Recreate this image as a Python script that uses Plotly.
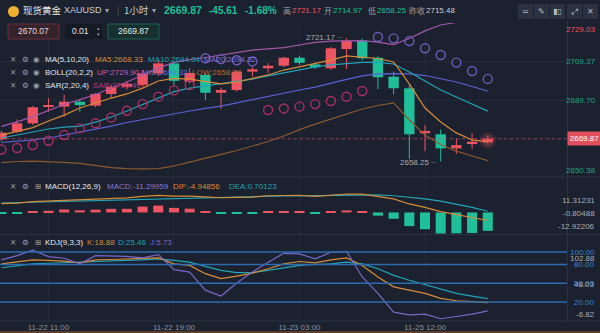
import plotly.graph_objects as go

# ---------------- data ----------------
idx = list(range(32))
tick_pos = [3, 11, 19, 27]
tick_text = ["11-22 11:00", "11-22 19:00", "11-23 03:00", "11-25 12:00"]

open_ = [2669.6, 2673.5, 2677.8, 2686.4, 2686.3, 2688.8, 2686.8, 2692.8, 2696.5, 2697.4,
         2703.3, 2708.4, 2699.0, 2702.5, 2693.4, 2694.8, 2704.2, 2705.9, 2707.2, 2711.3,
         2707.9, 2705.9, 2715.7, 2720.0, 2711.3, 2701.6, 2695.7, 2672.7, 2672.2, 2665.0,
         2667.5, 2668.1]
high = [2674.0, 2679.8, 2686.6, 2690.6, 2692.3, 2689.5, 2693.4, 2697.4, 2699.5, 2705.0,
        2709.6, 2709.0, 2706.0, 2703.4, 2696.0, 2705.0, 2706.5, 2708.5, 2711.8, 2712.3,
        2709.0, 2716.8, 2721.17, 2721.0, 2712.0, 2704.2, 2697.3, 2676.9, 2674.6, 2669.8,
        2672.7, 2671.5]
low = [2668.5, 2672.8, 2677.0, 2683.7, 2681.2, 2683.7, 2686.0, 2690.6, 2695.0, 2696.5,
       2702.0, 2697.0, 2698.0, 2689.7, 2685.1, 2694.0, 2701.6, 2703.5, 2706.5, 2707.6,
       2705.5, 2705.0, 2705.5, 2710.0, 2695.3, 2692.6, 2659.5, 2663.6, 2658.25, 2662.2,
       2664.7, 2667.5]
close = [2673.0, 2677.8, 2686.0, 2686.8, 2688.8, 2687.1, 2692.8, 2696.5, 2698.0, 2703.3,
         2708.4, 2699.5, 2703.5, 2693.4, 2694.8, 2704.2, 2705.4, 2707.2, 2711.3, 2708.7,
         2706.4, 2716.1, 2720.0, 2711.0, 2701.3, 2695.7, 2672.2, 2673.9, 2665.0, 2666.7,
         2668.4, 2669.87]

ma5 = [2671.8, 2673.6, 2675.6, 2679.0, 2682.0, 2685.6, 2688.1, 2690.7, 2692.8, 2695.8,
       2699.4, 2700.7, 2700.4, 2699.1, 2697.9, 2698.9, 2700.7, 2702.5, 2705.0, 2706.6,
       2708.3, 2710.1, 2712.2, 2711.4, 2710.9, 2709.1, 2697.9, 2685.6, 2678.5, 2672.9,
       2669.3, 2668.33]
ma10 = [2670.3, 2671.8, 2673.3, 2674.9, 2675.9, 2676.4, 2678.4, 2681.0, 2684.1, 2687.4,
        2690.7, 2694.0, 2695.8, 2697.1, 2698.1, 2699.2, 2700.4, 2702.0, 2703.5, 2705.0,
        2706.6, 2707.6, 2708.3, 2708.9, 2708.9, 2708.1, 2704.0, 2699.4, 2694.8, 2691.2,
        2687.6, 2684.04]
boll_mid = [2668.0, 2668.5, 2669.3, 2670.3, 2671.8, 2673.4, 2674.9, 2676.4, 2678.2, 2679.7,
            2681.3, 2682.8, 2684.1, 2685.4, 2686.6, 2688.2, 2689.9, 2691.7, 2693.3, 2694.8,
            2696.3, 2698.4, 2700.2, 2702.0, 2703.0, 2703.2, 2703.0, 2702.2, 2700.7, 2698.9,
            2696.6, 2694.32]
boll_up = [2676.2, 2678.5, 2681.2, 2684.3, 2687.4, 2689.9, 2692.5, 2695.8, 2698.9, 2702.5,
           2706.0, 2708.9, 2710.4, 2711.4, 2712.7, 2713.9, 2715.2, 2715.8, 2716.5, 2717.8,
           2719.1, 2719.8, 2720.0, 2720.0, 2719.3, 2718.0, 2721.1, 2725.0, 2728.0, 2729.3,
           2729.8, 2729.90]
boll_low = [2657.7, 2658.3, 2658.5, 2658.3, 2657.8, 2657.3, 2656.2, 2655.2, 2654.7, 2654.5,
            2654.7, 2656.0, 2658.0, 2659.8, 2661.9, 2663.9, 2666.2, 2668.5, 2671.3, 2674.6,
            2677.4, 2680.0, 2682.8, 2685.1, 2686.9, 2688.2, 2679.5, 2671.8, 2667.0, 2663.6,
            2661.1, 2658.74]
sar = [2664.4, 2665.2, 2666.7, 2668.9, 2671.8, 2675.2, 2677.8, 2680.8, 2684.2, 2687.6,
       2691.4, 2694.6, 2697.4, 2711.0, 2710.6, 2710.0, 2709.4, 2684.6, 2685.4, 2686.3,
       2687.6, 2689.2, 2691.4, 2694.3, 2721.9, 2721.2, 2719.8, 2716.1, 2712.7, 2708.8,
       2704.5, 2700.49]

dif = [5.4, 5.7, 6.65, 7.05, 7.7, 7.7, 8.15, 8.65, 8.9, 9.85,
       10.45, 10.05, 10.05, 9.55, 9.0, 9.2, 9.45, 10.25, 10.5, 10.55,
       9.9, 10.7, 11.31231, 11.2, 9.8, 8.3, 5.2, 3.15, 0.5, -1.3,
       -3.2, -4.94856]
dea = [5.8, 6.05, 6.3, 6.55, 6.8, 7.05, 7.3, 7.55, 7.8, 8.05,
       8.35, 8.65, 8.9, 9.2, 9.4, 9.6, 9.8, 9.95, 10.1, 10.2,
       10.3, 10.4, 10.7, 10.8, 10.8, 10.25, 9.4, 8.3, 6.96103, 5.1,
       3.1, 0.70123]
macd_hist = [-0.8, -0.7, 0.7, 1.0, 1.8, 1.3, 1.7, 2.2, 2.2, 3.6,
             4.2, 2.8, 2.3, 0.7, -0.8, -0.8, -0.7, 0.6, 0.8, 0.7,
             -0.8, 0.6, 1.22462, 0.8, -2.0, -3.9, -8.4, -10.3, -12.92206, -12.8,
             -12.6, -11.29959]

k_line = [81.1, 84.0, 87.5, 86.5, 85.3, 82.7, 87.5, 88.0, 88.5, 89.0,
          90.6, 81.1, 78.5, 65.3, 57.4, 61.5, 66.3, 73.2, 81.1, 84.8,
          82.7, 87.5, 90.6, 78.5, 60.0, 44.2, 39.0, 33.7, 25.8, 22.0,
          20.5, 18.88]
d_line = [74.8, 78.0, 81.1, 82.0, 82.7, 83.7, 84.5, 85.3, 86.5, 87.5,
          89.0, 86.5, 83.7, 76.9, 70.6, 67.0, 67.0, 70.6, 74.2, 78.5,
          80.0, 81.1, 83.7, 81.1, 73.2, 62.6, 54.8, 47.9, 40.0, 33.7,
          29.5, 25.46]
j_line = [87.5, 94.2, 102.88, 92.7, 90.0, 81.0, 94.2, 94.2, 93.0, 90.6,
          95.8, 71.7, 67.9, 39.0, 29.5, 50.5, 67.9, 83.7, 97.9, 96.9,
          89.0, 99.5, 101.0, 60.0, 33.7, 3.7, -0.5, 0.6, -6.82, -3.2,
          0.6, 5.73]
kdj_levels = [100, 80, 50, 20]

# ---------------- style ----------------
W, H = 600, 333
MR, MB = 33, 12
PW, PH = W - MR, H - MB
BG = "#1b212e"
RED = "#ee5461"
GREEN = "#1fbf9a"
C_MA5 = "#d88b36"
C_MA10 = "#22a3b8"
C_MID = "#5c62d6"
C_UP = "#a657ad"
C_LOW = "#8c5a2f"
C_SAR_LO = "#a92f64"
C_SAR_HI = "#6e5bb8"
C_J = "#7a66c8"
C_LEVEL = "#2d6cb0"
GRID = "#242b38"
SEP = "#2b3243"
TXT = "#e4e6ea"
GRAY = "#9aa0aa"
LAT = "Liberation Sans, Arial, sans-serif"
CJK = "Noto Sans CJK SC, sans-serif"
FS = 8  # small text size


def px_x(x):
    return x / PW


def px_y(y):
    return (PH - y) / PH


fig = go.Figure()

# ---------------- main panel: candles ----------------
body_base = [min(o, c) for o, c in zip(open_, close)]
body_h = [max(abs(c - o), 0.45) for o, c in zip(open_, close)]
body_col = [RED if c >= o else GREEN for o, c in zip(open_, close)]
fig.add_trace(go.Bar(x=idx, y=body_h, base=body_base, width=0.66,
                     marker=dict(color=body_col, line=dict(width=0)),
                     xaxis="x", yaxis="y"))
for col in (RED, GREEN):
    wx, wy = [], []
    for i in idx:
        if body_col[i] == col:
            wx += [i, i, None]
            wy += [low[i], high[i], None]
    fig.add_trace(go.Scatter(x=wx, y=wy, mode="lines", line=dict(color=col, width=1),
                             xaxis="x", yaxis="y"))

# overlays
for series, col in ((boll_low, C_LOW), (boll_mid, C_MID), (boll_up, C_UP),
                    (ma10, C_MA10), (ma5, C_MA5)):
    fig.add_trace(go.Scatter(x=idx, y=series, mode="lines",
                             line=dict(color=col, width=1.2), xaxis="x", yaxis="y"))

sar_lo = [s if s < c else None for s, c in zip(sar, close)]
sar_hi = [s if s >= c else None for s, c in zip(sar, close)]
for series, col in ((sar_lo, C_SAR_LO), (sar_hi, C_SAR_HI)):
    fig.add_trace(go.Scatter(x=idx, y=series, mode="markers",
                             marker=dict(symbol="circle-open", size=9, color=col,
                                         line=dict(width=1.4, color=col)),
                             xaxis="x", yaxis="y"))

# glow on the live candle
last = idx[-1]
for sz, a in ((17, 0.12), (12, 0.2)):
    fig.add_trace(go.Scatter(x=[last], y=[(open_[last] + close[last]) / 2], mode="markers",
                             marker=dict(size=sz, color=f"rgba(238,84,97,{a})"),
                             xaxis="x", yaxis="y"))

# ---------------- MACD panel ----------------
hist_col = [RED if v >= 0 else GREEN for v in macd_hist]
fig.add_trace(go.Bar(x=idx, y=macd_hist, width=0.64,
                     marker=dict(color=hist_col, line=dict(width=0)),
                     xaxis="x2", yaxis="y2"))
fig.add_trace(go.Scatter(x=idx, y=dea, mode="lines", line=dict(color=C_MA10, width=1.2),
                         xaxis="x2", yaxis="y2"))
fig.add_trace(go.Scatter(x=idx, y=dif, mode="lines", line=dict(color=C_MA5, width=1.2),
                         xaxis="x2", yaxis="y2"))

# ---------------- KDJ panel ----------------
for series, col in ((d_line, C_MA10), (k_line, C_MA5), (j_line, C_J)):
    fig.add_trace(go.Scatter(x=idx, y=series, mode="lines", line=dict(color=col, width=1.2),
                             xaxis="x3", yaxis="y3"))

# ---------------- axes ----------------
xr = [-0.089, 36.05]
ax_common = dict(range=xr, tickvals=tick_pos, showgrid=True, gridcolor=GRID, gridwidth=1,
                 zeroline=False, showline=False, ticks="")
main_lo, main_hi = 2650.38, 2729.03
main_ticks = [main_lo + (main_hi - main_lo) * k / 4 for k in range(5)]

fig.update_layout(
    width=W, height=H,
    margin=dict(l=0, r=MR, t=0, b=MB),
    paper_bgcolor=BG, plot_bgcolor=BG,
    showlegend=False, hovermode=False,
    font=dict(family=LAT, color=GRAY, size=9),
    xaxis=dict(**ax_common, anchor="y", showticklabels=False),
    xaxis2=dict(**ax_common, anchor="y2", matches="x", showticklabels=False),
    xaxis3=dict(**ax_common, anchor="y3", matches="x", showticklabels=True,
                ticktext=tick_text, tickfont=dict(size=FS, color="#8b909a")),
    yaxis=dict(domain=[px_y(177), px_y(23)], range=[main_lo, main_hi], tickvals=main_ticks,
               showgrid=True, gridcolor=GRID, zeroline=False, showticklabels=False),
    yaxis2=dict(domain=[px_y(234), px_y(177)], range=[-13.23, 21.74], showgrid=False,
                zeroline=False, showticklabels=False),
    yaxis3=dict(domain=[0, px_y(235)], range=[-10.4, 127.2], showgrid=False,
                zeroline=False, showticklabels=False),
)

shapes = []
# KDJ reference levels
for lv in kdj_levels:
    shapes.append(dict(type="line", xref="paper", yref="y3", x0=0, x1=1, y0=lv, y1=lv,
                       line=dict(color=C_LEVEL, width=1.5)))
# live price line
shapes.append(dict(type="line", xref="paper", yref="y", x0=0, x1=1,
                   y0=close[-1], y1=close[-1],
                   line=dict(color="rgba(214,80,100,0.6)", width=1, dash="dot")))
# panel separators
for yy in (177, 234.5, 321):
    shapes.append(dict(type="line", xref="paper", yref="paper", x0=0, x1=W / PW,
                       y0=px_y(yy), y1=px_y(yy), line=dict(color=SEP, width=1)))
shapes.append(dict(type="line", xref="paper", yref="paper", x0=px_x(567.5), x1=px_x(567.5),
                   y0=px_y(21), y1=px_y(321), line=dict(color=SEP, width=1)))
# bottom strip
shapes.append(dict(type="rect", xref="paper", yref="paper", x0=0, x1=W / PW,
                   y0=px_y(333), y1=px_y(331), fillcolor="#5a3d2b", line=dict(width=0)))
# order boxes
shapes.append(dict(type="rect", xref="paper", yref="paper", x0=px_x(8), x1=px_x(59),
                   y0=px_y(39), y1=px_y(24), fillcolor="#34232d",
                   line=dict(color="#6b2f3c", width=1)))
shapes.append(dict(type="rect", xref="paper", yref="paper", x0=px_x(65), x1=px_x(102),
                   y0=px_y(39), y1=px_y(24), fillcolor="#141923", line=dict(width=0)))
shapes.append(dict(type="rect", xref="paper", yref="paper", x0=px_x(108), x1=px_x(159),
                   y0=px_y(39), y1=px_y(24), fillcolor="#17302f",
                   line=dict(color="#1d6555", width=1)))
# toolbar buttons
for x0 in (518, 534, 550, 567, 583):
    shapes.append(dict(type="rect", xref="paper", yref="paper", x0=px_x(x0), x1=px_x(x0 + 15),
                       y0=px_y(19), y1=px_y(4), fillcolor="#2a3140", line=dict(width=0)))
# coin icon
shapes.append(dict(type="circle", xref="paper", yref="paper", x0=px_x(8), x1=px_x(19),
                   y0=px_y(17), y1=px_y(6), fillcolor="#f0b12f", line=dict(width=0)))

ann = []


def label(x, y, text, color=TXT, size=FS, family=LAT, anchor="left", bold=False, **kw):
    if bold:
        text = f"<b>{text}</b>"
    ann.append(dict(x=px_x(x), y=px_y(y), xref="paper", yref="paper", text=text,
                    showarrow=False, xanchor=anchor, yanchor="middle",
                    font=dict(color=color, size=size, family=family), **kw))


# header
label(21, 10, "现货黄金", TXT, 9.5, CJK)
label(62, 10, "XAUUSD", "#c9ccd2", 9)
label(103, 10, "▾", GRAY, 8)
label(115, 10, "|", "#4a5162", 9)
label(122, 10, "1小时", "#c9ccd2", 9.5, CJK)
label(150, 10, "▾", GRAY, 8)
label(162, 10, "2669.87", GREEN, 10.5, bold=True)
label(207, 10, "-45.61", GREEN, 10, bold=True)
label(243, 10, "-1.68%", GREEN, 10, bold=True)
label(281, 10, "高", GRAY, 8, CJK)
label(290, 10, "2721.17", RED, 8)
label(322, 10, "开", GRAY, 8, CJK)
label(331, 10, "2714.97", GREEN, 8)
label(366, 10, "低", GRAY, 8, CJK)
label(375, 10, "2658.25", GREEN, 8)
label(407, 10, "昨收", GRAY, 8, CJK)
label(424, 10, "2715.48", "#c9ccd2", 8)
for xc, g in ((525.5, "≃"), (541.5, "✎"), (557.5, "▮▯"), (574.5, "⤢"), (590.5, "✕")):
    label(xc, 11, g, "#b8bcc4", 8, family="DejaVu Sans", anchor="center")

# order inputs
label(33.5, 31.5, "2670.07", "#e6d8dc", 8.5, anchor="center")
label(70, 31.5, "0.01", TXT, 8.5)
label(98, 28.5, "▴", GRAY, 5, family="DejaVu Sans", anchor="center")
label(98, 34.5, "▾", GRAY, 5, family="DejaVu Sans", anchor="center")
label(133.5, 31.5, "2669.87", "#dfeee9", 8.5, anchor="center")

# indicator legends
icon_f = "DejaVu Sans"
for yy in (59, 72, 85):
    label(8, yy, "✕", GRAY, 7.5, icon_f)
    label(20, yy, "⚙", GRAY, 7.5, icon_f)
    label(31, yy, "◉", GRAY, 7.5, icon_f)
label(43, 59, "MA(5,10,20)", TXT)
label(93, 59, "MA5:2668.33", C_MA5)
label(146, 59, "MA10:2684.04", C_MA10)
label(202, 59, "MA20:2694.32", "#7b70dc")
label(43, 72, "BOLL(20,2,2)", TXT)
label(95, 72, "UP:2729.90", "#c35bbf")
label(140, 72, "MID:2694.32", "#6d6fe0")
label(190, 72, "LOW:2658.74", "#b8702e")
label(43, 85, "SAR(2,20,4)", TXT)
label(91, 85, "SAR:2700.49", "#c23571")

for yy, name, items in (
    (186.5, "MACD(12,26,9)", ((105, "MACD:-11.29959", "#8a78da"), (171, "DIF:-4.94856", C_MA5),
                               (227, "DEA:0.70123", C_MA10))),
    (242.5, "KDJ(9,3,3)", ((85, "K:18.88", C_MA5), (116, "D:25.46", C_MA10),
                            (148, "J:5.73", C_J))),
):
    label(8, yy, "✕", GRAY, 7.5, icon_f)
    label(20, yy, "⚙", GRAY, 7.5, icon_f)
    label(33, yy, "⊞", GRAY, 7.5, icon_f)
    label(43, yy, name, TXT)
    for xx, t, c in items:
        label(xx, yy, t, c)

# extreme markers on the price panel
for i, val in ((22, high[22]), (28, low[28])):
    ann.append(dict(x=i, y=val, xref="x", yref="y", text=f"{val:.2f} ┈", showarrow=False,
                    xanchor="right", yanchor="middle", xshift=-3, yshift=-1 if i == 28 else 1,
                    font=dict(color="#a6abb3", size=FS, family=LAT)))

# right-hand scale labels
XR = 597 / PW
for val, col, ys in ((main_ticks[4], RED, -6), (main_ticks[3], "#22a585", 0),
                     (main_ticks[2], "#22a585", 0), (main_ticks[0], "#22a585", 7)):
    ann.append(dict(x=XR, y=val, xref="paper", yref="y", text=f"{val:.2f}", showarrow=False,
                    xanchor="right", yanchor="middle", yshift=ys,
                    font=dict(color=col, size=FS, family=LAT)))
ann.append(dict(x=1.0, y=close[-1], xref="paper", yref="y", text=f"{close[-1]:.2f}",
                showarrow=False, xanchor="left", yanchor="middle", xshift=0,
                bgcolor="#e0505d", borderpad=2, width=29,
                font=dict(color="#ffffff", size=FS, family=LAT)))

macd_hi, macd_lo = max(dif + dea + macd_hist), min(dif + dea + macd_hist)
for val, ys in ((macd_hi, -7), ((macd_hi + macd_lo) / 2, 0), (macd_lo, 6.5)):
    ann.append(dict(x=XR, y=val, xref="paper", yref="y2", text=f"{val:.5f}", showarrow=False,
                    xanchor="right", yanchor="middle", yshift=ys,
                    font=dict(color="#a8adb5", size=FS, family=LAT)))

for lv in kdj_levels:
    ann.append(dict(x=XR, y=lv, xref="paper", yref="y3", text=f"{lv:.2f}", showarrow=False,
                    xanchor="right", yanchor="middle",
                    font=dict(color="#3a86d0", size=FS, family=LAT)))
kdj_hi, kdj_lo = max(k_line + d_line + j_line), min(k_line + d_line + j_line)
for val, ys in ((kdj_hi, -8), ((kdj_hi + kdj_lo) / 2, 0), (kdj_lo, 4.5)):
    ann.append(dict(x=XR, y=val, xref="paper", yref="y3", text=f"{val:.2f}", showarrow=False,
                    xanchor="right", yanchor="middle", yshift=ys,
                    font=dict(color="#a8adb5", size=FS, family=LAT)))

fig.update_layout(shapes=shapes, annotations=ann)
fig.write_html("out.html")
